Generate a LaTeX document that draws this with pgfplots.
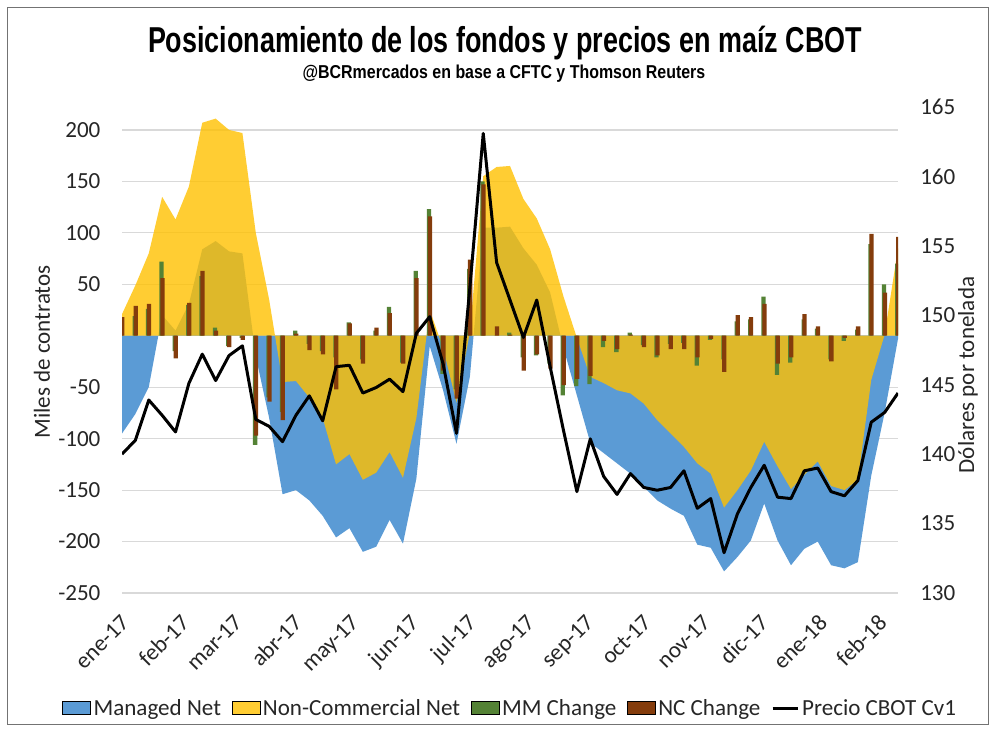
\documentclass[border=0pt]{standalone}
\usepackage{pgfplots}
\pgfplotsset{compat=1.18}
\usepackage{pgfplotstable}
\usepackage{graphicx}
\usepackage{fontspec}
\setmainfont{Carlito}
\newfontfamily\titlefont{Liberation Sans}

\definecolor{mmblue}{HTML}{5B9BD5}
\definecolor{ncyellow}{HTML}{FFC000}
\definecolor{mmgreen}{HTML}{548235}
\definecolor{ncbrown}{HTML}{843C0C}
\definecolor{gridgray}{HTML}{D9D9D9}
\definecolor{txt}{HTML}{262626}

\pgfplotsset{
  sqleg/.style={legend image code/.code={\fill[##1] (0pt,-4.9pt) rectangle (21pt,4.9pt);}},
  lineleg/.style={legend image code/.code={\draw[##1] (0pt,0pt) -- (19pt,0pt);}},
}

\pgfplotstableread{
i mm nc mmc ncc price
0 -95 21 8 18 140.0
1 -76 49 19 29 141.0
2 -50 80 26 31 143.9
3 20 135 72 56 142.8
4 5 113 -15 -22 141.6
5 31 145 30 32 145.1
6 84 207 58 63 147.2
7 92 211 8 5 145.3
8 82 200 -10 -11 147.1
9 80 197 -2 -4 147.8
10 -20 100 -106 -97 142.5
11 -80 35 -60 -64 142.0
12 -154 -45 -74 -82 140.9
13 -150 -44 5 2 142.8
14 -160 -60 -8 -14 144.2
15 -175 -80 -15 -18 142.4
16 -196 -125 -21 -52 146.3
17 -187 -115 13 12 146.4
18 -210 -140 -23 -27 144.4
19 -205 -133 5 8 144.8
20 -179 -113 28 22 145.4
21 -202 -138 -26 -27 144.5
22 -139 -80 63 56 148.7
23 -10 25 123 116 149.9
24 -53 -12 -37 -34 146.5
25 -105 -65 -52 -61 141.5
26 -40 3 65 74 152.0
27 105 155 150 147 163.1
28 105 164 0 9 153.8
29 106 165 3 1 151.1
30 85 133 -21 -34 148.4
31 69 114 -19 -18 151.1
32 42 84 -27 -32 146.3
33 -12 38 -58 -48 141.7
34 -58 -2 -49 -42 137.3
35 -104 -40 -47 -39 141.1
36 -114 -46 -11 -5 138.4
37 -124 -53 -16 -13 137.1
38 -134 -56 3 1 138.6
39 -147 -66 -9 -11 137.6
40 -160 -82 -21 -19 137.4
41 -168 -95 -8 -13 137.6
42 -175 -108 -7 -13 138.8
43 -203 -124 -29 -21 136.1
44 -206 -134 -4 -3 136.8
45 -229 -167 -23 -35 132.9
46 -215 -150 14 20 135.7
47 -199 -131 16 18 137.6
48 -163 -103 38 31 139.2
49 -199 -127 -38 -27 136.9
50 -223 -149 -26 -21 136.8
51 -207 -135 16 21 138.8
52 -200 -122 7 9 139.0
53 -223 -146 -23 -25 137.3
54 -226 -150 -5 -2 137.0
55 -220 -140 6 9 138.1
56 -136 -43 89 99 142.3
57 -75 1 50 42 143.0
58 -3 85 70 96 144.4
}\data

\begin{document}
\begin{tikzpicture}[x=0.75pt,y=0.75pt]
\path[use as bounding box] (0,0) rectangle (995,729);
\draw[black!55, line width=0.75pt] (7,5) rectangle (988,721);

\node[anchor=base, inner sep=0pt] at (505,676)
  {\resizebox{535.5pt}{\height}{\titlefont\bfseries\fontsize{27}{30}\selectfont Posicionamiento de los fondos y precios en maíz CBOT}};
\node[anchor=base, inner sep=0pt] at (504,650)
  {\resizebox{302pt}{\height}{\titlefont\bfseries\fontsize{14}{16}\selectfont @BCRmercados en base a CFTC y Thomson Reuters}};

\begin{axis}[at={(91.5pt,102pt)}, anchor=south west, width=582pt, height=364.5pt, scale only axis,
  xmin=0, xmax=58, ymin=-250, ymax=222.3,
  axis line style={draw=none}, major tick length=0pt,
  ytick={-250,-200,-150,-100,-50,0,50,100,150,200},
  yticklabels={-250,-200,-150,-100,-50,,50,100,150,200},
  ymajorgrids, grid style={gridgray, line width=0.9pt},
  yticklabel style={font=\fontsize{17.3}{20}\selectfont, text=txt, inner sep=0pt, xshift=-16pt},
  xtick={0.15,4.58,8.58,13.01,17.29,21.72,26.01,30.44,34.86,39.15,43.58,47.86,52.29,56.72},
  xticklabels={ene-17,feb-17,mar-17,abr-17,may-17,jun-17,jul-17,ago-17,sep-17,oct-17,nov-17,dic-17,ene-18,feb-18},
  xticklabel style={font=\fontsize{17.3}{20}\selectfont, text=txt, xshift=-3pt, yshift=-15pt, rotate=45, anchor=north east, inner sep=0pt},
  legend columns=5,
  legend style={at={(0.499,-0.237)}, anchor=center, draw=none, fill=none,
    font=\fontsize{17.3}{20}\selectfont, text=txt, inner sep=0pt,
    nodes={inner sep=0pt},
    /tikz/every odd column/.append style={column sep=2pt},
    /tikz/every even column/.append style={column sep=8pt}},
  legend cell align=left,
]
\addplot[fill=mmblue, draw=none, forget plot] table[x=i,y=mm]{\data} \closedcycle;
\addplot[fill=ncyellow, fill opacity=0.8, draw=none, forget plot] table[x=i,y=nc]{\data} \closedcycle;
\addplot[ybar, bar width=3.2pt, bar shift=-0.5pt, fill=mmgreen, draw=none, forget plot] table[x=i,y=mmc]{\data};
\addplot[ybar, bar width=3.2pt, bar shift=0.2pt, fill=ncbrown, draw=none, forget plot] table[x=i,y=ncc]{\data};
\addlegendimage{sqleg, fill=mmblue}
\addlegendentry{Managed Net}
\addlegendimage{sqleg, fill=ncyellow!80}
\addlegendentry{Non-Commercial Net}
\addlegendimage{sqleg, fill=mmgreen}
\addlegendentry{MM Change}
\addlegendimage{sqleg, fill=ncbrown}
\addlegendentry{NC Change}
\addlegendimage{lineleg, black, line width=2.25pt}
\addlegendentry{Precio CBOT Cv1}
\end{axis}

\begin{axis}[at={(91.5pt,102pt)}, anchor=south west, width=582pt, height=364.5pt, scale only axis,
  xmin=0, xmax=58, ymin=130, ymax=165,
  hide x axis, yticklabel pos=right,
  axis line style={draw=none}, major tick length=0pt,
  ytick={130,135,140,145,150,155,160,165},
  yticklabels={130,135,140,145,150,155,160,165},
  yticklabel style={font=\fontsize{17.3}{20}\selectfont, text=txt, inner sep=0pt, anchor=west, xshift=16.5pt},
]
\addplot[black, line width=2.25pt, line join=round] table[x=i,y=price]{\data};
\end{axis}

\node[rotate=90, font=\fontsize{17.3}{20}\selectfont, text=txt] at (42,377) {Miles de contratos};
\node[rotate=90, font=\fontsize{17.3}{20}\selectfont, text=txt] at (968,354) {Dólares por tonelada};
\end{tikzpicture}
\end{document}
